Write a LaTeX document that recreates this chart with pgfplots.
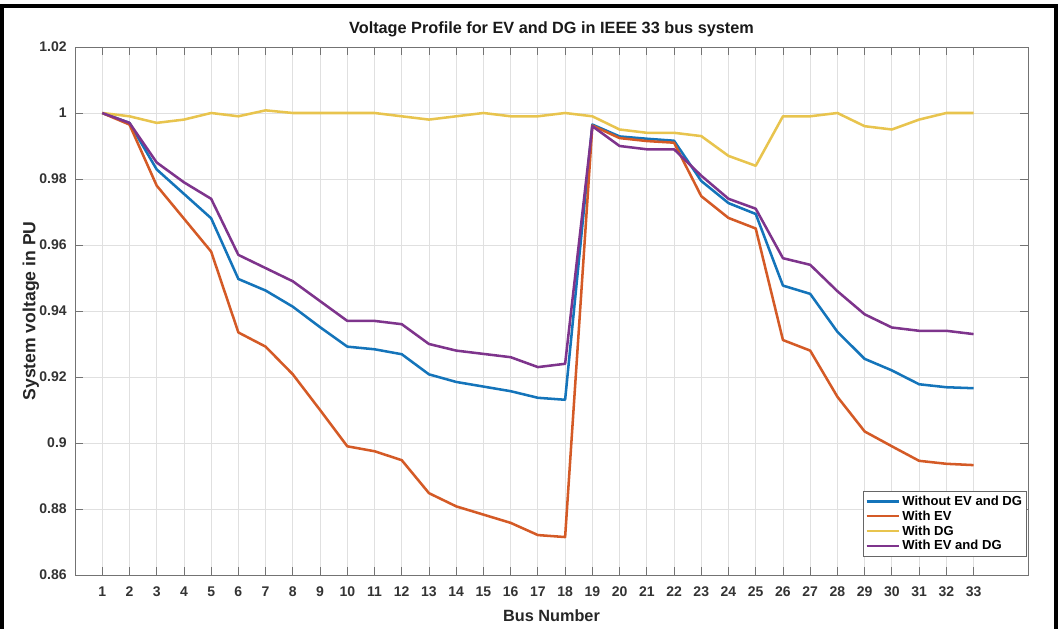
\documentclass[border=0pt]{standalone}
\usepackage{pgfplots}
\pgfplotsset{compat=1.18}
\usepackage{fontspec}
\setmainfont{Liberation Sans}
\definecolor{mblue}{RGB}{20,116,186}
\definecolor{mred}{RGB}{212,90,38}
\definecolor{myellow}{RGB}{232,196,78}
\definecolor{mpurple}{RGB}{126,52,140}
\begin{document}
\begin{tikzpicture}
\path[use as bounding box] (-56.25pt,-39.75pt) rectangle (740.25pt,431.25pt);
\draw[line width=2.6pt,black] (-54.75pt,-42pt) -- (-54.75pt,426.75pt) -- (735.75pt,426.75pt) -- (735.75pt,-42pt);
\begin{axis}[
  at={(0pt,0pt)}, anchor=south west,
  scale only axis, width=714.75pt, height=396pt,
  xmin=0, xmax=35, ymin=0.86, ymax=1.02,
  xtick={1,...,33},
  ytick={0.86,0.88,0.9,0.92,0.94,0.96,0.98,1,1.02},
  yticklabel style={/pgf/number format/fixed,/pgf/number format/precision=2, xshift=-2.7pt},
  /pgf/number format/assume math mode=true,
  tick label style={font=\bfseries\fontsize{10.5}{12}\selectfont, text=black!80},
  xticklabel style={anchor=base, yshift=-16.3pt},
  tick align=inside, major tick length=6pt,
  xtick pos=both, ytick pos=both,
  tick style={black!55, line width=0.6pt},
  axis line style={black!55, line width=0.7pt},
  grid=major, major grid style={black!12, line width=0.6pt},
  title={Voltage Profile for EV and DG in IEEE 33 bus system},
  title style={at={(rel axis cs:0.5,1.00985)}, anchor=base, font=\bfseries\fontsize{12.2}{14}\selectfont, text=black!90},
  xlabel={Bus Number},
  every axis x label/.style={at={(rel axis cs:0.5,-0.0884)}, anchor=base, font=\bfseries\fontsize{12.2}{14}\selectfont, text=black!85},
  ylabel={System voltage in PU},
  every axis y label/.style={at={(rel axis cs:-0.0462,0.5)}, rotate=90, anchor=center, font=\bfseries\fontsize{13.2}{15}\selectfont, text=black!85},
  legend style={at={(rel axis cs:0.999,0.034)}, anchor=south east, draw=black!60, fill=white,
    font=\bfseries\fontsize{9.8}{11}\selectfont, text=black, inner sep=1.5pt, row sep=-1.4pt,
    line width=0.6pt},
  legend cell align=left,
  legend image code/.code={\draw[#1, line width=1.6pt] (0pt,0pt) -- (24pt,0pt);},
  every axis plot/.append style={line width=1.9pt, line join=round},
]
\addplot[mblue, no marks] coordinates {
(1,1.0000) (2,0.9970) (3,0.9829) (4,0.9755) (5,0.9681) (6,0.9497) (7,0.9462) (8,0.9413)
(9,0.9351) (10,0.9292) (11,0.9284) (12,0.9269) (13,0.9208) (14,0.9185) (15,0.9171) (16,0.9157)
(17,0.9137) (18,0.9131) (19,0.9965) (20,0.9929) (21,0.9922) (22,0.9916) (23,0.9794) (24,0.9727)
(25,0.9694) (26,0.9477) (27,0.9452) (28,0.9337) (29,0.9255) (30,0.9220) (31,0.9178) (32,0.9169) (33,0.9166)};
\addlegendentry{Without EV and DG}
\addplot[mred, no marks] coordinates {
(1,1.0000) (2,0.9965) (3,0.9780) (4,0.9680) (5,0.9580) (6,0.9335) (7,0.9292) (8,0.9208)
(9,0.9100) (10,0.8990) (11,0.8975) (12,0.8948) (13,0.8848) (14,0.8808) (15,0.8783) (16,0.8758)
(17,0.8721) (18,0.8715) (19,0.9962) (20,0.9924) (21,0.9915) (22,0.9910) (23,0.9748) (24,0.9682)
(25,0.9650) (26,0.9312) (27,0.9280) (28,0.9140) (29,0.9035) (30,0.8990) (31,0.8946) (32,0.8937) (33,0.8933)};
\addlegendentry{With EV}
\addplot[myellow, no marks] coordinates {
(1,1.0000) (2,0.9990) (3,0.9970) (4,0.9980) (5,1.0000) (6,0.9990) (7,1.0008) (8,1.0000)
(9,1.0000) (10,1.0000) (11,1.0000) (12,0.9990) (13,0.9980) (14,0.9990) (15,1.0000) (16,0.9990)
(17,0.9990) (18,1.0000) (19,0.9990) (20,0.9950) (21,0.9940) (22,0.9940) (23,0.9930) (24,0.9870)
(25,0.9840) (26,0.9990) (27,0.9990) (28,1.0000) (29,0.9960) (30,0.9950) (31,0.9980) (32,1.0000) (33,1.0000)};
\addlegendentry{With DG}
\addplot[mpurple, no marks] coordinates {
(1,1.0000) (2,0.9970) (3,0.9850) (4,0.9790) (5,0.9740) (6,0.9570) (7,0.9530) (8,0.9490)
(9,0.9430) (10,0.9370) (11,0.9370) (12,0.9360) (13,0.9300) (14,0.9280) (15,0.9270) (16,0.9260)
(17,0.9230) (18,0.9240) (19,0.9960) (20,0.9900) (21,0.9890) (22,0.9890) (23,0.9810) (24,0.9740)
(25,0.9710) (26,0.9560) (27,0.9540) (28,0.9460) (29,0.9390) (30,0.9350) (31,0.9340) (32,0.9340) (33,0.9330)};
\addlegendentry{With EV and DG}
\end{axis}
\end{tikzpicture}
\end{document}
